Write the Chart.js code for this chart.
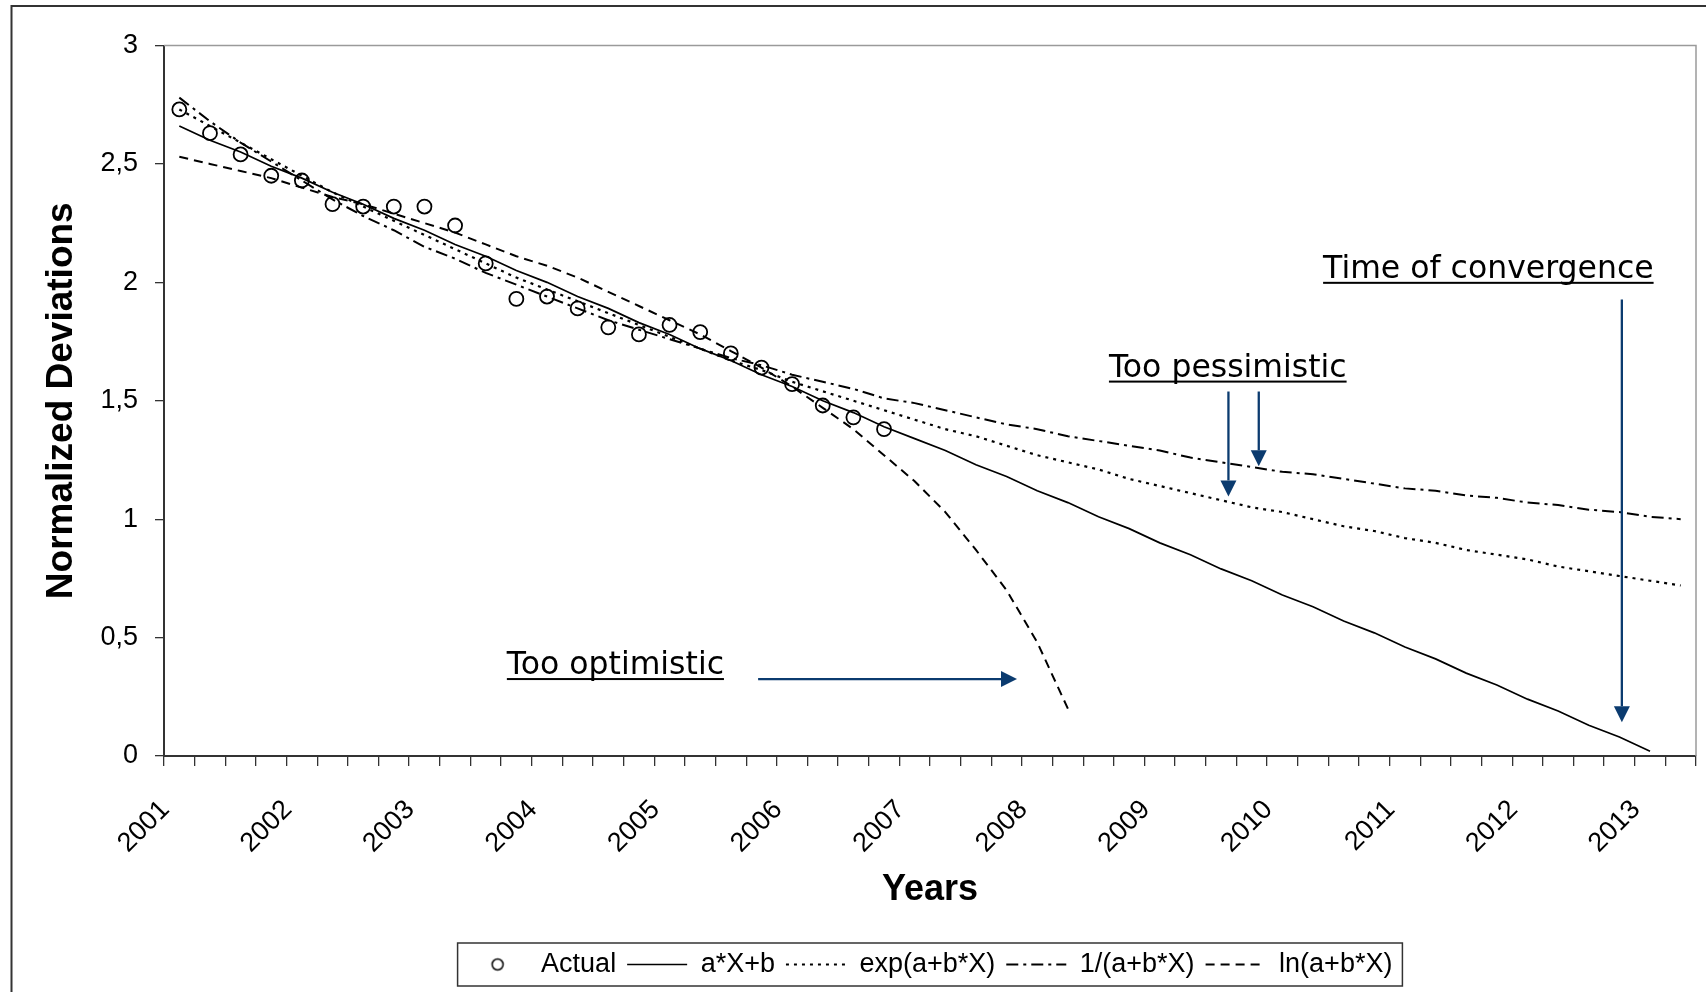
<!DOCTYPE html>
<html>
<head>
<meta charset="utf-8">
<title>Normalized Deviations</title>
<script src="https://cdn.jsdelivr.net/npm/chart.js@4.4.1/dist/chart.umd.min.js"></script>
<style>
  html, body { margin: 0; padding: 0; background: #fff; }
  #wrap { position: relative; width: 1706px; height: 992px; }
</style>
</head>
<body>
<div id="wrap"><canvas id="devChart" width="1706" height="992"></canvas></div>
<script>
/************** Data **************/
let years = ['2001','2002','2003','2004','2005','2006','2007','2008','2009','2010','2011','2012','2013'];
let quarters = ['Q1','Q2','Q3','Q4'];
let yTicks = [0, 0.5, 1, 1.5, 2, 2.5, 3];

// observed values, 2001 Q1 .. 2006 Q4
let actual = [2.73, 2.63, 2.54, 2.45, 2.43, 2.33, 2.32, 2.32, 2.32, 2.24, 2.08, 1.93,
              1.94, 1.89, 1.81, 1.78, 1.82, 1.79, 1.70, 1.64, 1.57, 1.48, 1.43, 1.38];

// a*X+b
let linearFit = [2.66, 2.60, 2.55, 2.49, 2.44, 2.38, 2.33, 2.27, 2.22, 2.16,
                 2.11, 2.05, 2.00, 1.94, 1.89, 1.83, 1.78, 1.72, 1.67, 1.61,
                 1.56, 1.50, 1.45, 1.39, 1.34, 1.29, 1.23, 1.18, 1.12, 1.07,
                 1.01, 0.96, 0.90, 0.85, 0.79, 0.74, 0.68, 0.63, 0.57, 0.52,
                 0.46, 0.41, 0.35, 0.30, 0.24, 0.19, 0.13, 0.08, 0.02];

// exp(a+b*X)
let expFit = [2.73, 2.66, 2.59, 2.52, 2.45, 2.38, 2.32, 2.26, 2.20, 2.14,
              2.08, 2.02, 1.97, 1.92, 1.87, 1.82, 1.77, 1.72, 1.67, 1.63,
              1.58, 1.54, 1.50, 1.46, 1.42, 1.38, 1.35, 1.31, 1.27, 1.24,
              1.21, 1.17, 1.14, 1.11, 1.08, 1.05, 1.03, 1.00, 0.97, 0.95,
              0.92, 0.90, 0.87, 0.85, 0.83, 0.80, 0.78, 0.76, 0.74, 0.72];

// 1/(a+b*X)
let invFit = [2.78, 2.68, 2.59, 2.51, 2.43, 2.35, 2.28, 2.22, 2.15, 2.10,
              2.04, 1.99, 1.94, 1.89, 1.84, 1.80, 1.76, 1.72, 1.68, 1.65,
              1.61, 1.58, 1.55, 1.51, 1.49, 1.46, 1.43, 1.40, 1.38, 1.35,
              1.33, 1.31, 1.29, 1.26, 1.24, 1.22, 1.20, 1.19, 1.17, 1.15,
              1.13, 1.12, 1.10, 1.09, 1.07, 1.06, 1.04, 1.03, 1.01, 1.00];

// ln(a+b*X)
let lnFit = [2.53, 2.50, 2.47, 2.44, 2.40, 2.36, 2.33, 2.29, 2.25, 2.21,
             2.16, 2.11, 2.07, 2.02, 1.96, 1.90, 1.84, 1.78, 1.71, 1.64,
             1.56, 1.47, 1.38, 1.27, 1.16, 1.03, 0.87, 0.70, 0.48, 0.20];

// one category per quarter, 2001 Q1 .. 2013 Q2
let categories = [];
for (let y = 0; y < years.length; y++) {
  for (let q = 0; q < quarters.length; q++) {
    if (categories.length < 50) categories.push(years[y] + ' ' + quarters[q]);
  }
}

/************** Annotations (category index / value units) **************/
let notes = [
  { text: 'Too optimistic', at: 10.69, level: 0.346 },
  { text: 'Too pessimistic', at: 30.34, level: 1.602 },
  { text: 'Time of convergence', at: 37.33, level: 2.019 }
];
let arrows = [
  { from: [18.89, 0.325], to: [27.34, 0.325] },
  { from: [34.24, 1.539], to: [34.24, 1.096] },
  { from: [35.23, 1.539], to: [35.23, 1.223] },
  { from: [47.08, 1.927], to: [47.08, 0.142] }
];

let navy = '#0b3b6f';
let ink = '#000000';

/************** Legend circle symbol **************/
let circleMark = document.createElement('canvas');
circleMark.width = 16;
circleMark.height = 16;
let cm = circleMark.getContext('2d');
cm.strokeStyle = ink;
cm.lineWidth = 1.5;
cm.beginPath();
cm.arc(8, 8, 5.5, 0, Math.PI * 2);
cm.stroke();

/************** Plugins **************/
let framePlugin = {
  id: 'frame',
  afterDraw(chart) {
    let ctx = chart.ctx;
    let a = chart.chartArea;
    ctx.save();
    // outer chart frame
    ctx.strokeStyle = '#333333';
    ctx.lineWidth = 2;
    ctx.strokeRect(11.5, 6, 2000, 2000);
    // plot area top / right border
    ctx.strokeStyle = '#9a9a9a';
    ctx.lineWidth = 1.5;
    ctx.beginPath();
    ctx.moveTo(a.left, a.top);
    ctx.lineTo(a.right, a.top);
    ctx.lineTo(a.right, a.bottom);
    ctx.stroke();
    // legend box
    let boxes = chart.legend.legendHitBoxes;
    if (boxes && boxes.length) {
      let l = Infinity, r = -Infinity, t = Infinity, b = -Infinity;
      boxes.forEach(h => {
        l = Math.min(l, h.left); r = Math.max(r, h.left + h.width);
        t = Math.min(t, h.top); b = Math.max(b, h.top + h.height);
      });
      ctx.strokeStyle = '#333333';
      ctx.lineWidth = 1.5;
      ctx.strokeRect(l - 10, t - 8, r - l + 20, b - t + 16);
    }
    ctx.restore();
  }
};

let notesPlugin = {
  id: 'notes',
  afterDatasetsDraw(chart) {
    let ctx = chart.ctx;
    let xs = chart.scales.x;
    let ys = chart.scales.y;
    ctx.save();
    ctx.font = '31.5px "DejaVu Sans", Tahoma, sans-serif';
    ctx.fillStyle = ink;
    ctx.textAlign = 'left';
    ctx.textBaseline = 'alphabetic';
    notes.forEach(n => {
      let x = xs.getPixelForValue(n.at);
      let y = ys.getPixelForValue(n.level);
      ctx.fillText(n.text, x, y);
      let w = ctx.measureText(n.text).width;
      ctx.fillRect(x, y + 4, w, 2);
    });
    ctx.strokeStyle = navy;
    ctx.fillStyle = navy;
    ctx.lineWidth = 2.3;
    arrows.forEach(ar => {
      let x1 = xs.getPixelForValue(ar.from[0]), y1 = ys.getPixelForValue(ar.from[1]);
      let x2 = xs.getPixelForValue(ar.to[0]), y2 = ys.getPixelForValue(ar.to[1]);
      let ang = Math.atan2(y2 - y1, x2 - x1);
      let headLen = 16, headW = 8;
      let bx = x2 - Math.cos(ang) * headLen, by = y2 - Math.sin(ang) * headLen;
      ctx.beginPath();
      ctx.moveTo(x1, y1);
      ctx.lineTo(bx, by);
      ctx.stroke();
      ctx.beginPath();
      ctx.moveTo(x2, y2);
      ctx.lineTo(bx + Math.sin(ang) * headW, by - Math.cos(ang) * headW);
      ctx.lineTo(bx - Math.sin(ang) * headW, by + Math.cos(ang) * headW);
      ctx.closePath();
      ctx.fill();
    });
    ctx.restore();
  }
};

/************** Chart **************/
Chart.defaults.font.family = '"Liberation Sans", Arial, sans-serif';
Chart.defaults.color = ink;

function lineSet(label, data, dash, width) {
  return {
    label: label,
    data: data,
    borderColor: ink,
    backgroundColor: ink,
    borderWidth: width,
    borderDash: dash,
    pointRadius: 0,
    pointHoverRadius: 0,
    tension: 0,
    fill: false
  };
}

let ctx = document.getElementById('devChart').getContext('2d');
let devChart = new Chart(ctx, {
  type: 'line',
  data: {
    labels: categories,
    datasets: [
      {
        label: 'Actual',
        data: actual,
        showLine: false,
        pointStyle: 'circle',
        pointRadius: 7,
        pointHoverRadius: 7,
        pointBorderWidth: 1.8,
        borderColor: ink,
        backgroundColor: 'rgba(0,0,0,0)'
      },
      lineSet('a*X+b', linearFit, [], 1.7),
      lineSet('exp(a+b*X)', expFit, [3, 5], 2.2),
      lineSet('1/(a+b*X)', invFit, [12, 5, 3, 5], 2),
      lineSet('ln(a+b*X)', lnFit, [9, 6], 2)
    ]
  },
  options: {
    responsive: false,
    animation: false,
    events: [],
    layout: { padding: { top: 45.5, right: 10, bottom: 4, left: 0 } },
    scales: {
      x: {
        type: 'category',
        offset: true,
        grid: { display: true, offset: true, drawOnChartArea: false, tickLength: 10, color: '#333333', lineWidth: 1.3 },
        border: { display: true, color: '#333333', width: 2 },
        ticks: {
          autoSkip: false,
          minRotation: 45,
          maxRotation: 45,
          padding: 28,
          labelOffset: -14,
          font: { size: 27 },
          color: ink,
          callback: function(value, index) {
            let lab = this.getLabelForValue(value);
            return lab.endsWith('Q1') ? lab.slice(0, 4) : '';
          }
        },
        title: { display: true, text: 'Years', font: { size: 36, weight: 'bold' }, color: ink, padding: { top: 0, bottom: 28 } },
        afterFit: function(scale) {
          scale.height = 184;
          scale.paddingLeft = 0;
          scale.paddingRight = 0;
        }
      },
      y: {
        min: 0,
        max: 3,
        afterBuildTicks: function(scale) { scale.ticks = yTicks.map(v => ({ value: v })); },
        grid: { display: true, drawOnChartArea: false, tickLength: 9, color: '#333333', lineWidth: 1.3 },
        border: { display: true, color: '#333333', width: 2 },
        ticks: {
          padding: 17,
          font: { size: 27 },
          color: ink,
          callback: function(value) { return String(value).replace('.', ','); }
        },
        title: { display: true, text: 'Normalized Deviations', font: { size: 37, weight: 'bold' }, color: ink, padding: { top: 40, bottom: 0 } },
        afterFit: function(scale) {
          scale.width = 164;
          scale.paddingTop = 0;
          scale.paddingBottom = 0;
        }
      }
    },
    plugins: {
      tooltip: { enabled: false },
      legend: {
        position: 'bottom',
        fullSize: false,
        labels: {
          usePointStyle: true,
          pointStyleWidth: 60,
          padding: 11,
          font: { size: 27 },
          color: ink,
          generateLabels: function(chart) {
            let items = Chart.defaults.plugins.legend.labels.generateLabels(chart);
            items.forEach((it, i) => {
              let ds = chart.data.datasets[it.datasetIndex];
              it.pointStyle = (i === 0) ? circleMark : 'line';
              it.fillStyle = 'rgba(0,0,0,0)';
              it.strokeStyle = ink;
              it.lineDash = ds.borderDash || [];
              it.lineWidth = (i === 0) ? 1.5 : ds.borderWidth;
            });
            return items;
          }
        }
      }
    }
  },
  plugins: [notesPlugin, framePlugin]
});
</script>
</body>
</html>
